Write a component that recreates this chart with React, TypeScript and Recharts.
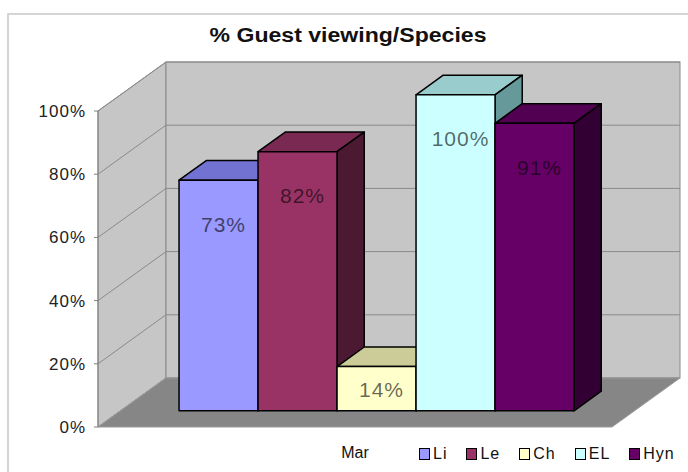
import React from "react";
import { BarChart, Bar, XAxis, YAxis, Legend, LabelList } from "recharts";

const categories = ["Mar"];
const seriesNames = ["Li", "Le", "Ch", "EL", "Hyn"];
const liValues = [0.73];
const leValues = [0.82];
const chValues = [0.14];
const elValues = [1.0];
const hynValues = [0.91];
const yTicks = [0, 0.2, 0.4, 0.6, 0.8, 1];

const seriesValues: Record<string, number[]> = {
  Li: liValues,
  Le: leValues,
  Ch: chValues,
  EL: elValues,
  Hyn: hynValues,
};

const data = categories.map((month, i) => {
  const row: Record<string, string | number> = { month };
  seriesNames.forEach((name) => {
    row[name] = seriesValues[name][i];
  });
  return row;
});

// face colours of each 3d box
const palette: Record<string, { front: string; top: string; side: string }> = {
  Li: { front: "#9999ff", top: "#7272d2", side: "#4d4d80" },
  Le: { front: "#993366", top: "#7a2952", side: "#4c1933" },
  Ch: { front: "#ffffcc", top: "#cccc99", side: "#808066" },
  EL: { front: "#ccffff", top: "#99cccc", side: "#669999" },
  Hyn: { front: "#660066", top: "#520052", side: "#330033" },
};

const FONT = "'Liberation Sans', Arial, sans-serif";
const W = 688;
const H = 472;
const margin = { top: 111, right: 76, bottom: 15, left: 38 };
const Y_AXIS_W = 60;
const X_AXIS_H = 30;
const plotLeft = margin.left + Y_AXIS_W;
const plotRight = W - margin.right;
const plotTop = margin.top;
const plotBottom = H - margin.bottom - X_AXIS_H;
const plotH = plotBottom - plotTop;

// oblique depth of the floor, bars sit between FRONT and BACK of it
const DX = 68;
const DY = -49;
const FRONT = 0.33;
const BACK = 0.73;

const fmt = (v: number) => `${Math.round(v * 100)}%`;

const Box3D = (props: any) => {
  const { x, y, width, height, colors } = props;
  if (!width || height == null) return null;
  const x0 = x + FRONT * DX;
  const y0 = y + FRONT * DY;
  const ddx = (BACK - FRONT) * DX;
  const ddy = (BACK - FRONT) * DY;
  const top = `${x0},${y0} ${x0 + ddx},${y0 + ddy} ${x0 + width + ddx},${y0 + ddy} ${x0 + width},${y0}`;
  const side = `${x0 + width},${y0} ${x0 + width + ddx},${y0 + ddy} ${x0 + width + ddx},${y0 + height + ddy} ${x0 + width},${y0 + height}`;
  return (
    <g stroke="#000" strokeWidth={1.5} strokeLinejoin="round">
      <polygon points={top} fill={colors.top} />
      <polygon points={side} fill={colors.side} />
      <rect x={x0} y={y0} width={width} height={height} fill={colors.front} />
    </g>
  );
};

const BarLabel = (props: any) => {
  const { x, y, width, height, value } = props;
  const cx = Number(x) + Number(width) / 2 + FRONT * DX + 5;
  const top = Number(y) + FRONT * DY;
  const cy = Math.min(top + 44, top + Number(height) / 2 + 1);
  return (
    <text
      x={cx}
      y={cy}
      dy="0.36em"
      textAnchor="middle"
      fontFamily={FONT}
      fontSize={21}
      letterSpacing={1}
      fill="#000"
      fillOpacity={0.6}
    >
      {fmt(Number(value))}
    </text>
  );
};

const renderLegend = (props: any) => {
  const { payload = [] } = props;
  // keep the series order, not the sorted one
  const items = seriesNames
    .map((n) => payload.find((p: any) => p.value === n || p.dataKey === n))
    .filter(Boolean);
  return (
    <div
      style={{
        display: "flex",
        alignItems: "center",
        whiteSpace: "nowrap",
        fontFamily: FONT,
        fontSize: 16,
        letterSpacing: 1,
        color: "#111",
      }}
    >
      {items.map((entry: any) => (
        <div
          key={entry.value}
          style={{ display: "flex", alignItems: "center", marginRight: 19 }}
        >
          <span
            style={{
              display: "inline-block",
              flexShrink: 0,
              boxSizing: "border-box",
              width: 11,
              height: 12,
              border: "1px solid #000",
              background: entry.color,
              marginRight: 3,
            }}
          />
          <span>{entry.value}</span>
        </div>
      ))}
    </div>
  );
};

// walls, floor and gridlines behind the bars
const Backdrop = () => {
  const yAt = (t: number) => plotBottom - t * plotH;
  const bx0 = plotLeft + DX;
  const bx1 = plotRight + DX;
  return (
    <svg
      width={W}
      height={H}
      style={{ position: "absolute", left: 0, top: 0 }}
    >
      <rect x={0} y={0} width={W} height={H} fill="#fff" />
      <rect
        x={8}
        y={14}
        width={W + 20}
        height={H + 20}
        fill="none"
        stroke="#c8c8c8"
        strokeWidth={1.5}
      />
      <text
        x={348}
        y={42}
        textAnchor="middle"
        fontFamily={FONT}
        fontWeight="bold"
        fontSize={20}
        textLength={277}
        lengthAdjust="spacingAndGlyphs"
        fill="#111"
      >
        % Guest viewing/Species
      </text>
      <polygon
        points={`${plotLeft},${plotBottom} ${plotLeft},${plotTop} ${bx0},${plotTop + DY} ${bx0},${plotBottom + DY}`}
        fill="#c6c6c6"
        stroke="#8a8a8a"
      />
      <rect
        x={bx0}
        y={plotTop + DY}
        width={bx1 - bx0}
        height={plotH}
        fill="#c6c6c6"
        stroke="#8a8a8a"
      />
      {yTicks.map((t) => (
        <g key={t} stroke="#8a8a8a" strokeWidth={1}>
          <line x1={plotLeft} y1={yAt(t)} x2={bx0} y2={yAt(t) + DY} />
          <line x1={bx0} y1={yAt(t) + DY} x2={bx1} y2={yAt(t) + DY} />
        </g>
      ))}
      <polygon
        points={`${plotLeft},${plotBottom} ${bx0},${plotBottom + DY} ${bx1},${plotBottom + DY} ${plotRight},${plotBottom}`}
        fill="#868686"
        stroke="#9a9a9a"
      />
    </svg>
  );
};

export default function App() {
  return (
    <div
      style={{
        position: "absolute",
        left: 0,
        top: 0,
        width: W,
        height: H,
        background: "#fff",
      }}
    >
      <Backdrop />
      <div style={{ position: "absolute", left: 0, top: 0 }}>
        <BarChart
          width={W}
          height={H}
          data={data}
          margin={margin}
          barGap={0}
          barCategoryGap="11.4%"
        >
          <XAxis
            dataKey="month"
            height={X_AXIS_H}
            axisLine={false}
            tickLine={false}
            tickSize={0}
            tickMargin={20}
            tick={{ fontSize: 16, fill: "#111", fontFamily: FONT }}
          />
          <YAxis
            width={Y_AXIS_W}
            domain={[0, 1]}
            ticks={yTicks}
            interval={0}
            tickFormatter={fmt}
            axisLine={{ stroke: "#808080" }}
            tickLine={{ stroke: "#808080" }}
            tickSize={4}
            tickMargin={8}
            tick={{ fontSize: 17, fill: "#222", fontFamily: FONT, letterSpacing: 1 }}
          />
          <Legend
            layout="horizontal"
            verticalAlign="middle"
            align="center"
            content={renderLegend}
            wrapperStyle={{ left: 419, top: 445, width: "auto" }}
          />
          {seriesNames.map((name) => (
            <Bar
              key={name}
              dataKey={name}
              name={name}
              fill={palette[name].front}
              isAnimationActive={false}
              shape={(p: any) => <Box3D {...p} colors={palette[name]} />}
            >
              <LabelList dataKey={name} content={BarLabel} />
            </Bar>
          ))}
        </BarChart>
      </div>
    </div>
  );
}
